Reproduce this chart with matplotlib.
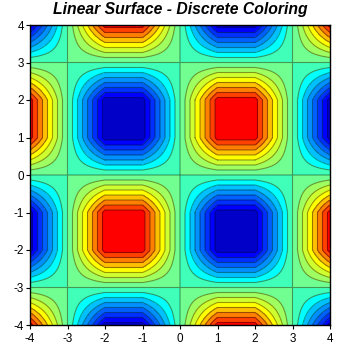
import numpy as np
import matplotlib
matplotlib.use('Agg')
import matplotlib.pyplot as plt
from matplotlib.colors import ListedColormap, BoundaryNorm

plt.rcParams['font.family'] = ['Liberation Sans', 'DejaVu Sans']
plt.rcParams['axes.unicode_minus'] = False

# grid nodes and surface values
x_nodes = [-4, -3, -2, -1, 0, 1, 2, 3, 4]
y_nodes = [-4, -3, -2, -1, 0, 1, 2, 3, 4]
z_rows = [
    [0.75, 0, -0.75, -0.75, 0, 0.75, 0.75, 0, -0.75],
    [0, 0, 0, 0, 0, 0, 0, 0, 0],
    [-0.75, 0, 0.75, 0.75, 0, -0.75, -0.75, 0, 0.75],
    [-0.75, 0, 0.75, 0.75, 0, -0.75, -0.75, 0, 0.75],
    [0, 0, 0, 0, 0, 0, 0, 0, 0],
    [0.75, 0, -0.75, -0.75, 0, 0.75, 0.75, 0, -0.75],
    [0.75, 0, -0.75, -0.75, 0, 0.75, 0.75, 0, -0.75],
    [0, 0, 0, 0, 0, 0, 0, 0, 0],
    [-0.75, 0, 0.75, 0.75, 0, -0.75, -0.75, 0, 0.75],
]
levels = [-0.8, -0.7, -0.6, -0.5, -0.4, -0.3, -0.2, -0.1, 0,
          0.1, 0.2, 0.3, 0.4, 0.5, 0.6, 0.7, 0.8]
band_colors = ['#0000c8', '#0000ff', '#0030ff', '#0060ff', '#0090ff', '#00c0ff', '#00ffff', '#40ffb8',
               '#70ff90', '#a0ff60', '#d0ff30', '#ffff00', '#ffc000', '#ff8000', '#ff4000', '#ff0000']


def bilinear(xs, ys, z, fine_x, fine_y):
    # the surface is linear inside each grid cell
    rows = np.array([np.interp(fine_x, xs, row) for row in z])
    return np.array([np.interp(fine_y, ys, rows[:, i]) for i in range(len(fine_x))]).T


fine_x = np.linspace(x_nodes[0], x_nodes[-1], 801)
fine_y = np.linspace(y_nodes[0], y_nodes[-1], 801)
fine_z = bilinear(x_nodes, y_nodes, np.array(z_rows), fine_x, fine_y)

fig = plt.figure(figsize=(3.6, 3.6), dpi=100)
ax = fig.add_axes([30 / 360, 35 / 360, 300 / 360, 300 / 360])

cmap = ListedColormap(band_colors)
norm = BoundaryNorm(levels, cmap.N)
ax.contourf(fine_x, fine_y, fine_z, levels=levels, cmap=cmap, norm=norm)
ax.contour(fine_x, fine_y, fine_z, levels=levels, colors='black', alpha=0.4,
           linewidths=0.8, linestyles='solid')

ax.set_xlim(-4, 4)
ax.set_ylim(-4, 4)
ax.set_xticks(x_nodes)
ax.set_yticks(y_nodes)
ax.tick_params(length=2.8, width=0.8, labelsize=8.4)
ax.tick_params(axis='x', pad=3)
ax.tick_params(axis='y', pad=1.5)
for s in ax.spines.values():
    s.set_linewidth(1)
ax.set_title('Linear Surface - Discrete Coloring', fontsize=11.3, fontweight='bold', fontstyle='italic', pad=8)

fig.savefig('out.png', dpi=100)
plt.close(fig)
